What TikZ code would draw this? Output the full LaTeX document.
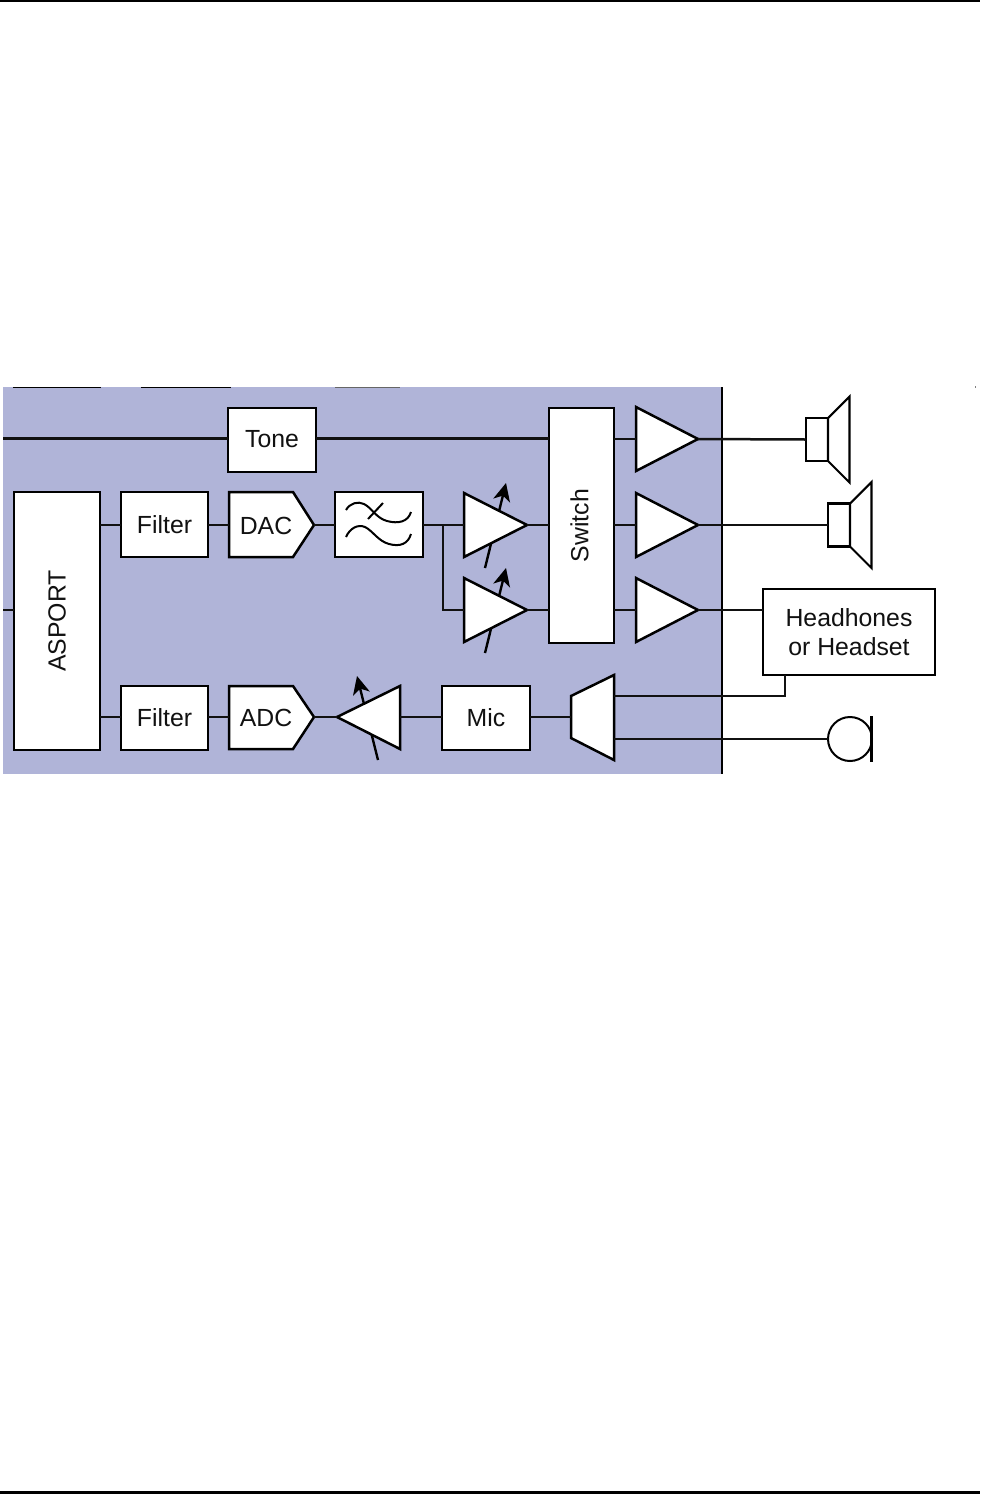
\documentclass[tikz,border=0pt]{standalone}
\usepackage{fontspec}
\setmainfont{Liberation Sans}
\usetikzlibrary{arrows.meta,calc}
\definecolor{panel}{HTML}{B0B4D8}
\definecolor{ink}{HTML}{111111}
\tikzset{
  x=1pt,y=-1pt,
  wire/.style={line width=2.5pt,draw=ink},
  blockbox/.style={draw=black,line width=2.8pt,fill=white,inner sep=0pt,outer sep=0pt,text=ink,font=\fontsize{24.8}{29}\selectfont,align=center},
  shapeline/.style={draw=black,line width=2.5pt,fill=white,line join=miter},
  spkline/.style={draw=black,line width=2.1pt,fill=white,line join=miter},
  gain/.style={line width=2.4pt,draw=black,-{Stealth[length=18pt,width=17pt,inset=5pt]}},
  scrap/.style={line width=1.6pt,draw=black},
  textonly/.style={inner sep=0pt,text=ink,font=\fontsize{24.8}{29}\selectfont}
}
\newcommand{\pblock}[6]{\node[blockbox,minimum width=#4-#2,minimum height=#5-#3] (#1) at ({(#2+#4)/2},{(#3+#5)/2}) {#6};}
\newcommand{\ampr}[4]{% name, x base, x tip, ymid : right-pointing triangle
  \coordinate (#1in) at (#2,#4);\coordinate (#1out) at (#3,#4);
  \draw[shapeline] (#2,#4-32) -- (#3,#4) -- (#2,#4+32) -- cycle;}
\newcommand{\spk}[3]{% name, x, y mid
  \coordinate (#1) at (#2,#3);
  \draw[spkline] (#2,#3-21.5) rectangle (#2+22,#3+21.5);
  \draw[spkline] (#2+22,#3-21.5) -- (#2+43.5,#3-43) -- (#2+43.5,#3+43) -- (#2+22,#3+21.5) -- cycle;}
\begin{document}
\begin{tikzpicture}
\useasboundingbox (0,0) rectangle (980,1494);
\fill[white] (0,0) rectangle (980,1494);
% page rules
\fill[black] (0,0) rectangle (980,2.4);
\fill[black] (0,1491.2) rectangle (980,1494);
% panel
\fill[panel] (3,387) rectangle (722,774);
\draw[scrap] (13,387.3) -- (101,387.3);
\draw[scrap] (141,387.3) -- (231,387.3);
\draw[line width=1pt,draw=black!60] (335,387.3) -- (400,387.3);
\draw[line width=0.8pt,draw=black!50] (975.5,386) -- (975.5,388);
\draw[line width=2.6pt,black] (722,387) -- (722,774);
% named free ends
\coordinate (toneL) at (3,438.5);
\coordinate (aspL) at (3,610);
% gain arrows lie under the amplifiers
\coordinate (g1a) at (485,568);\coordinate (g1b) at (506,483);
\coordinate (g2a) at (485,653);\coordinate (g2b) at (506,568);
\coordinate (g3a) at (378,760);\coordinate (g3b) at (357,676);
\draw[gain] (g1a) -- (g1b);
\draw[gain] (g2a) -- (g2b);
\draw[gain] (g3a) -- (g3b);
% blocks
\pblock{tone}{228}{408}{316}{472}{\raisebox{1.5pt}{Tone}}
\pblock{filta}{121}{492}{208}{557}{Filter}
\pblock{filtb}{121}{686}{208}{750}{Filter}
\pblock{lpf}{335}{492}{423}{557}{}
\pblock{asport}{14}{492}{100}{750}{\rotatebox{90}{ASPORT}}
\pblock{switch}{549}{408}{614}{643}{\hspace*{-4pt}\rotatebox{90}{Switch}}
\pblock{mic}{442}{686}{530}{750}{Mic}
\pblock{phones}{763}{589}{935}{675}{Headhones\\or Headset}
% converters
\draw[shapeline] (229,492) -- (293,492) -- (314,525) -- (293,557) -- (229,557) -- cycle;
\node[textonly] (dac) at (266,526) {DAC};
\coordinate (dacin) at (229,525);\coordinate (dacout) at (314,525);
\draw[shapeline] (229,686) -- (293,686) -- (314,717) -- (293,749) -- (229,749) -- cycle;
\node[textonly] (adc) at (266,718) {ADC};
\coordinate (adcin) at (229,717);\coordinate (adcout) at (314,717);
% amplifiers
\ampr{va}{464}{527}{525}
\ampr{vb}{464}{527}{610}
\ampr{oa}{636}{698}{439}
\ampr{ob}{636}{698}{525}
\ampr{oc}{636}{698}{610}
% ADC amplifier, pointing left
\draw[shapeline] (400,686) -- (337,717) -- (400,749) -- cycle;
\coordinate (adout) at (337,717);\coordinate (adin) at (400,717);
% mux
\draw[shapeline] (571,696) -- (614,675) -- (614,760) -- (571,738) -- cycle;
\coordinate (muxL) at (571,717);\coordinate (muxA) at (614,696);\coordinate (muxB) at (614,739);
% speakers and microphone
\spk{spa}{806}{439.5}
\spk{spb}{828}{525}
\draw[line width=2pt,black,fill=white] (850,739) circle[radius=22];
\coordinate (micW) at (828,739);
\draw[line width=2.6pt,black] (871.5,716) -- (871.5,762);
% filter symbol
\draw[line width=2pt,black] (346,510) .. controls (350,503) and (358,501) .. (364,504) .. controls (372,508) and (376,518) .. (387,521) .. controls (398,524) and (408,522) .. (411,512);
\draw[line width=2pt,black] (346,537) .. controls (350,528) and (358,524) .. (365,527) .. controls (373,531) and (378,541) .. (389,544) .. controls (400,547) and (408,544) .. (411,534);
\draw[line width=2pt,black] (368,519) -- (383,503);
% connectors
\draw[wire] (toneL) -- (tone.west |- toneL);
\draw[wire] (tone.east |- toneL) -- (switch.west |- toneL);
\draw[wire] (aspL) -- (asport.west |- aspL);
\draw[wire] (asport.east |- dacin) -- (filta.west |- dacin);
\draw[wire] (filta.east |- dacin) -- (dacin);
\draw[wire] (dacout) -- (lpf.west |- dacout);
\draw[wire] (lpf.east |- vain) -- (vain);
\coordinate (tap) at (443,525);
\draw[wire] (tap) |- (vbin);
\draw[wire] (vaout) -- (vaout -| switch.west);
\draw[wire] (vbout) -- (vbout -| switch.west);
\draw[wire] (oain -| switch.east) -- (oain);
\draw[wire] (obin -| switch.east) -- (obin);
\draw[wire] (ocin -| switch.east) -- (ocin);
\draw[wire] (oaout) -- (spa);
\draw[wire] (obout) -- (spb);
\draw[wire] (ocout) -- (ocout -| phones.west);
\draw[wire] (asport.east |- adcin) -- (filtb.west |- adcin);
\draw[wire] (filtb.east |- adcin) -- (adcin);
\draw[wire] (adcout) -- (adout);
\draw[wire] (adin) -- (mic.west |- adin);
\draw[wire] (mic.east |- adin) -- (muxL);
\coordinate (phA) at (785,675);
\draw[wire] (muxA) -| (phA);
\draw[wire] (muxB) -- (micW);
\end{tikzpicture}
\end{document}
